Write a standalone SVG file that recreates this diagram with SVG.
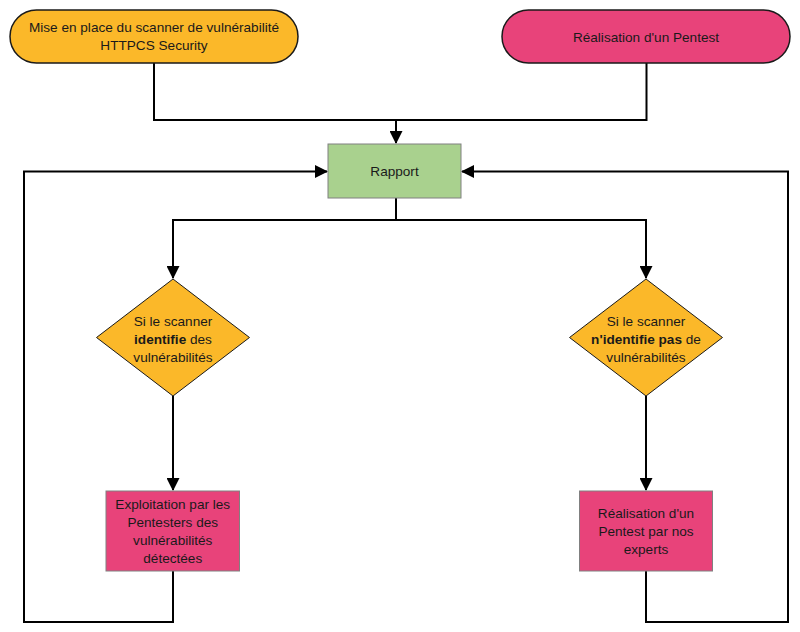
<svg xmlns="http://www.w3.org/2000/svg" width="800" height="632" viewBox="0 0 800 632">
<defs>
<marker id="ah" markerWidth="13" markerHeight="13" refX="12" refY="6.5" orient="auto" markerUnits="userSpaceOnUse">
<path d="M0,0 L13,6.5 L0,13 Z" fill="#000"/>
</marker>
<style>
text{font-family:"Liberation Sans",Arial,sans-serif;font-size:13.6px;fill:#1a1a1a;text-anchor:middle}
.b{font-weight:bold}
.term{stroke:#1a1a1a;stroke-width:1.5}
.box{stroke:#808080;stroke-width:1}
.dia{stroke:#1a1a1a;stroke-width:1}
.or{fill:#fbb829}
.pk{fill:#e8437a}
.gr{fill:#a9d18e}
.c{fill:none;stroke:#000;stroke-width:2}
</style>
</defs>
<rect width="800" height="632" fill="#fff"/>
<g id="connectors">
<path class="c" d="M154,63 V120 H646.5 V63"/>
<path class="c" d="M396,120 V143" marker-end="url(#ah)"/>
<path class="c" d="M396,198 V220 H173 V278" marker-end="url(#ah)"/>
<path class="c" d="M396,220 H646 V278" marker-end="url(#ah)"/>
<path class="c" d="M173,396 V490" marker-end="url(#ah)"/>
<path class="c" d="M646,396 V490" marker-end="url(#ah)"/>
<path class="c" d="M173,571 V622 H24 V171.5 H327" marker-end="url(#ah)"/>
<path class="c" d="M646,571 V622 H788 V171.5 H462" marker-end="url(#ah)"/>
</g>
<g id="start-scanner">
<rect class="term or" x="10" y="10" width="288" height="53" rx="26.5"/>
<text x="154" y="32">Mise en place du scanner de vulnérabilité</text>
<text x="154" y="50">HTTPCS Security</text>
</g>
<g id="start-pentest">
<rect class="term pk" x="502" y="10" width="288" height="53" rx="26.5"/>
<text x="646" y="41.5">Réalisation d'un Pentest</text>
</g>
<g id="rapport">
<rect class="box gr" x="328" y="144" width="133" height="54"/>
<text x="394.5" y="176">Rapport</text>
</g>
<g id="decision-identifie">
<polygon class="dia or" points="173,279 249.5,337.5 173,396 96.5,337.5"/>
<text x="173" y="326">Si le scanner</text>
<text x="173" y="344"><tspan class="b">identifie</tspan> des</text>
<text x="173" y="362">vulnérabilités</text>
</g>
<g id="decision-nidentifie">
<polygon class="dia or" points="646,279 722.5,337.5 646,396 569.5,337.5"/>
<text x="646" y="326">Si le scanner</text>
<text x="646" y="344"><tspan class="b">n'identifie pas</tspan> de</text>
<text x="646" y="362">vulnérabilités</text>
</g>
<g id="exploitation">
<rect class="box pk" x="106" y="491" width="133.5" height="80"/>
<text x="172.75" y="509">Exploitation par les</text>
<text x="172.75" y="527">Pentesters des</text>
<text x="172.75" y="545">vulnérabilités</text>
<text x="172.75" y="563">détectées</text>
</g>
<g id="pentest-experts">
<rect class="box pk" x="579.5" y="491" width="133" height="80"/>
<text x="646" y="518">Réalisation d'un</text>
<text x="646" y="536">Pentest par nos</text>
<text x="646" y="554">experts</text>
</g>
</svg>
